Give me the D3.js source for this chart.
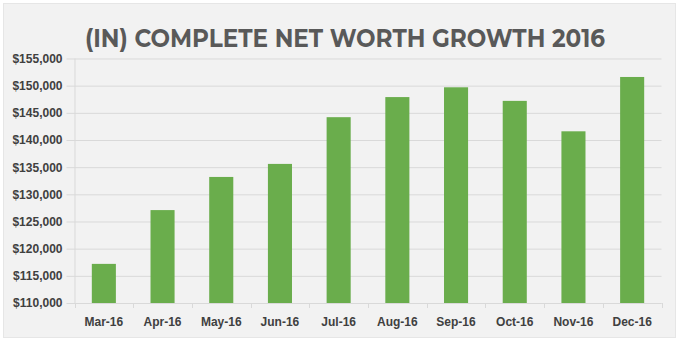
<!DOCTYPE html>
<html>
<head>
<meta charset="utf-8">
<script src="https://cdn.jsdelivr.net/npm/d3@7"></script>
<style>
  html, body { margin: 0; padding: 0; background: #ffffff; }
  svg { display: block; }
</style>
</head>
<body>
<svg id="chart" width="680" height="342"></svg>
<script>
const title = "(IN) COMPLETE NET WORTH GROWTH 2016";
const categories = ["Mar-16", "Apr-16", "May-16", "Jun-16", "Jul-16", "Aug-16", "Sep-16", "Oct-16", "Nov-16", "Dec-16"];
const netWorth = [117200, 127100, 133200, 135600, 144200, 147900, 149700, 147200, 141600, 151600];
const yTicks = [110000, 115000, 120000, 125000, 130000, 135000, 140000, 145000, 150000, 155000];

const svg = d3.select("#chart");
const W = 680, H = 342;
const m = { left: 74.5, right: 680 - 661.5, top: 58.5, bottom: 342 - 303 };

svg.append("rect")
  .attr("x", 3.5).attr("y", 3.5)
  .attr("width", 672).attr("height", 334)
  .attr("fill", "#f2f2f2")
  .attr("stroke", "#e6e6e6");

svg.append("text")
  .attr("x", 345).attr("y", 47)
  .attr("text-anchor", "middle")
  .attr("font-family", "Montserrat, 'Open Sans', Lato, sans-serif")
  .attr("font-weight", 700)
  .attr("font-size", 26)
  .attr("fill", "#595959")
  .attr("textLength", 520)
  .attr("lengthAdjust", "spacingAndGlyphs")
  .text(title);

const x = d3.scaleBand()
  .domain(categories)
  .range([m.left, W - m.right])
  .paddingInner(0.59)
  .paddingOuter(0.295);

const y = d3.scaleLinear()
  .domain([110000, 155000])
  .range([H - m.bottom, m.top]);

// gridlines + y axis
const yAxis = d3.axisLeft(y)
  .tickValues(yTicks)
  .tickSize(8)
  .tickPadding(4)
  .tickFormat(d => "$" + d3.format(",")(d));

const gy = svg.append("g")
  .attr("transform", `translate(${m.left},0)`)
  .call(yAxis);
gy.select(".domain").attr("stroke", "#d9d9d9").attr("d", `M0.5,${y(155000)}V${y(110000)}`);
gy.selectAll(".tick line").attr("stroke", "#d9d9d9").attr("x1", -8).attr("x2", W - m.right - m.left);
gy.selectAll(".tick text")
  .attr("font-family", "'Liberation Sans', Arial, sans-serif")
  .attr("font-weight", 700)
  .attr("font-size", 12)
  .attr("fill", "#404040");

// bars
svg.append("g").selectAll("rect")
  .data(categories)
  .join("rect")
  .attr("x", d => x(d))
  .attr("width", x.bandwidth())
  .attr("y", (d, i) => y(netWorth[i]))
  .attr("height", (d, i) => y(110000) - y(netWorth[i]))
  .attr("fill", "#6aad4c");

// x axis
const xPos = d3.scalePoint().domain(d3.range(categories.length + 1)).range([m.left, W - m.right]);
const gx = svg.append("g").attr("transform", `translate(0,${y(110000)})`);
gx.append("line")
  .attr("x1", m.left).attr("x2", W - m.right)
  .attr("y1", 0.5).attr("y2", 0.5)
  .attr("stroke", "#d9d9d9");
gx.selectAll("line.tk")
  .data(d3.range(categories.length + 1))
  .join("line")
  .attr("class", "tk")
  .attr("x1", d => Math.round(xPos(d)) + 0.5).attr("x2", d => Math.round(xPos(d)) + 0.5)
  .attr("y1", 0).attr("y2", 5)
  .attr("stroke", "#d9d9d9");
gx.selectAll("text")
  .data(categories)
  .join("text")
  .attr("x", d => x(d) + x.bandwidth() / 2)
  .attr("y", 23)
  .attr("text-anchor", "middle")
  .attr("font-family", "'Liberation Sans', Arial, sans-serif")
  .attr("font-weight", 700)
  .attr("font-size", 12)
  .attr("fill", "#404040")
  .text(d => d);
</script>
</body>
</html>
